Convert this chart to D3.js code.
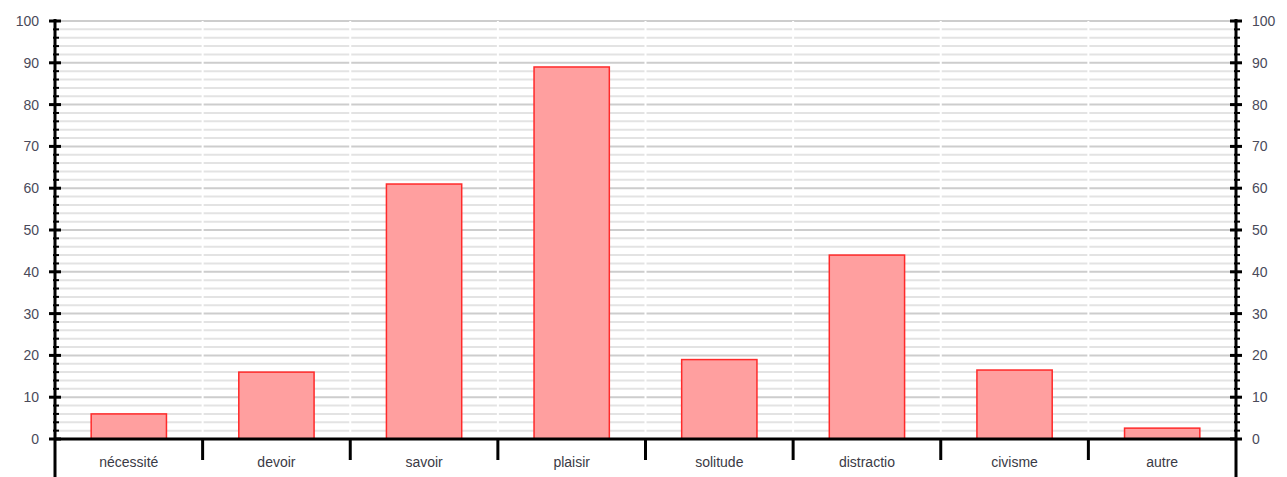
<!DOCTYPE html>
<html>
<head>
<meta charset="utf-8">
<script src="https://cdn.jsdelivr.net/npm/d3@7"></script>
<style>
    body { margin: 0; background: #fff; }
    text { font-family: "Liberation Sans", Arial, sans-serif; }
</style>
</head>
<body>
<script>
var categories = ["nécessité", "devoir", "savoir", "plaisir", "solitude", "distractio", "civisme", "autre"];
var values = [6, 16, 61, 89, 19, 44, 16.5, 2.6];
var majorTicks = [0, 10, 20, 30, 40, 50, 60, 70, 80, 90, 100];

var width = 1287,
    height = 477;

// note: "top" is taken by window.top, so keep the plot edges in one object
var plot = {left: 55, right: 1236, top: 21, bottom: 439};

var svg = d3.select("body").append("svg")
    .attr("width", width)
    .attr("height", height);

var x = d3.scaleBand().domain(categories).range([plot.left, plot.right]).paddingInner(0).paddingOuter(0);
var y = d3.scaleLinear().domain([0, 100]).range([plot.bottom, plot.top]);

var minorTicks = d3.range(0, 101, 2);

// grid
svg.append("g")
    .selectAll("line")
    .data(minorTicks)
    .enter().append("line")
    .attr("x1", plot.left).attr("x2", plot.right)
    .attr("y1", function (d) { return y(d); })
    .attr("y2", function (d) { return y(d); })
    .attr("stroke", function (d) { return d % 10 === 0 ? "#cdcdcd" : "#e3e3e3"; })
    .attr("stroke-width", 2);

// vertical white separators
svg.append("g")
    .selectAll("line")
    .data(categories.slice(1))
    .enter().append("line")
    .attr("x1", function (d) { return x(d); })
    .attr("x2", function (d) { return x(d); })
    .attr("y1", plot.top).attr("y2", plot.bottom)
    .attr("stroke", "#fff")
    .attr("stroke-width", 2);

// bars
var bw = x.bandwidth() * 0.51;
svg.append("g")
    .selectAll("rect")
    .data(values)
    .enter().append("rect")
    .attr("x", function (d, i) { return x(categories[i]) + (x.bandwidth() - bw) / 2; })
    .attr("y", function (d) { return y(d); })
    .attr("width", bw)
    .attr("height", function (d) { return y(0) - y(d); })
    .attr("fill", "#ff9f9f")
    .attr("stroke", "#ff2a2a")
    .attr("stroke-width", 1.5);

// vertical axes
function drawAxis(xPos, side) {
    var g = svg.append("g");
    g.append("line")
        .attr("x1", xPos).attr("x2", xPos)
        .attr("y1", plot.top - 2).attr("y2", height)
        .attr("stroke", "#000").attr("stroke-width", 3);
    g.selectAll("line.minor")
        .data(minorTicks.filter(function (d) { return d % 10 !== 0; }))
        .enter().append("line")
        .attr("class", "minor")
        .attr("x1", xPos - 2).attr("x2", xPos + 4)
        .attr("y1", function (d) { return y(d); })
        .attr("y2", function (d) { return y(d); })
        .attr("stroke", "#000").attr("stroke-width", 2);
    g.selectAll("line.major")
        .data(majorTicks)
        .enter().append("line")
        .attr("class", "major")
        .attr("x1", xPos - 6).attr("x2", xPos + 6)
        .attr("y1", function (d) { return y(d); })
        .attr("y2", function (d) { return y(d); })
        .attr("stroke", "#000").attr("stroke-width", 3);
    g.selectAll("text")
        .data(majorTicks)
        .enter().append("text")
        .attr("x", side === "left" ? xPos - 16 : xPos + 16)
        .attr("y", function (d) { return y(d) + 5; })
        .attr("text-anchor", side === "left" ? "end" : "start")
        .attr("font-size", 14)
        .attr("fill", "#4a4a5a")
        .text(function (d) { return d; });
}

// bottom axis
svg.append("line")
    .attr("x1", plot.left).attr("x2", plot.right)
    .attr("y1", plot.bottom).attr("y2", plot.bottom)
    .attr("stroke", "#000").attr("stroke-width", 3);

svg.append("g")
    .selectAll("line")
    .data(categories.slice(1))
    .enter().append("line")
    .attr("x1", function (d) { return x(d); })
    .attr("x2", function (d) { return x(d); })
    .attr("y1", plot.bottom).attr("y2", plot.bottom + 21)
    .attr("stroke", "#000").attr("stroke-width", 3);

svg.append("g")
    .selectAll("text")
    .data(categories)
    .enter().append("text")
    .attr("x", function (d) { return x(d) + x.bandwidth() / 2; })
    .attr("y", plot.bottom + 28)
    .attr("text-anchor", "middle")
    .attr("font-size", 14)
    .attr("fill", "#3a3a45")
    .text(function (d) { return d; });

drawAxis(plot.left, "left");
drawAxis(plot.right, "right");
</script>
</body>
</html>
